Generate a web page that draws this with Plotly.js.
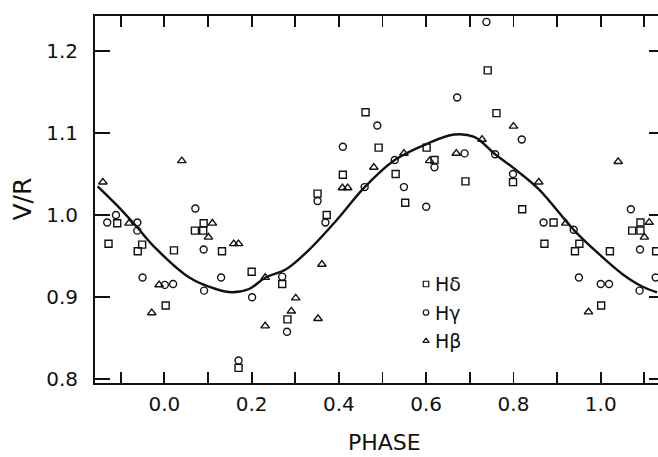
<!DOCTYPE html>
<html><head><meta charset="utf-8">
<script src="https://cdn.plot.ly/plotly-3.0.1.min.js"></script>
<style>html,body{margin:0;padding:0;overflow:hidden;background:#fff}#chart{width:680px;height:457px}</style>
</head><body><div id="chart"></div><script>
// H-delta (squares)
const hDeltaPhase = [-0.108,-0.128,-0.051,-0.061,0.022,0.003,0.090,0.070,0.089,0.132,0.200,0.270,0.282,0.170,0.351,0.372,0.409,0.461,0.491,0.530,0.552,0.601,0.619,0.690,0.741,0.761,0.799,0.820,0.892,0.871,0.951,0.941,1.021,1.001,1.091,1.072,1.091,1.127];
const hDeltaVR    = [0.990,0.965,0.964,0.956,0.957,0.890,0.990,0.981,0.981,0.956,0.931,0.916,0.873,0.814,1.026,1.000,1.049,1.125,1.082,1.050,1.015,1.082,1.067,1.041,1.176,1.124,1.040,1.007,0.991,0.965,0.965,0.956,0.956,0.890,0.991,0.981,0.981,0.956];
// H-gamma (circles)
const hGammaPhase = [-0.131,-0.111,-0.062,-0.062,-0.050,0.001,0.020,0.071,0.090,0.130,0.091,0.201,0.170,0.270,0.281,0.369,0.351,0.409,0.488,0.459,0.528,0.549,0.600,0.619,0.671,0.688,0.738,0.758,0.819,0.799,0.869,0.938,0.950,1.000,1.019,1.089,1.069,1.090,1.126];
const hGammaVR    = [0.991,1.000,0.991,0.981,0.924,0.915,0.916,1.008,0.958,0.924,0.908,0.900,0.823,0.925,0.858,0.991,1.017,1.083,1.109,1.034,1.067,1.034,1.010,1.058,1.143,1.075,1.235,1.074,1.092,1.050,0.991,0.982,0.924,0.916,0.916,0.908,1.007,0.958,0.924];
// H-beta (triangles)
const hBetaPhase  = [-0.141,-0.081,-0.012,-0.029,0.040,0.110,0.101,0.159,0.170,0.231,0.231,0.301,0.291,0.352,0.361,0.408,0.420,0.480,0.549,0.608,0.669,0.728,0.800,0.858,0.920,0.972,1.040,1.111,1.100];
const hBetaVR     = [1.040,0.990,0.915,0.881,1.066,0.990,0.973,0.965,0.965,0.924,0.865,0.899,0.883,0.874,0.940,1.033,1.033,1.058,1.075,1.066,1.075,1.092,1.108,1.040,0.990,0.882,1.065,0.991,0.973];
// fitted curve
const curvePhase  = [-0.153,-0.109,-0.064,-0.019,0.057,0.118,0.155,0.194,0.232,0.279,0.332,0.395,0.459,0.528,0.603,0.664,0.710,0.758,0.808,0.859,0.938,0.997,1.050,1.095,1.129];
const curveVR     = [1.035,1.012,0.986,0.959,0.924,0.910,0.906,0.910,0.924,0.934,0.958,0.994,1.034,1.067,1.087,1.098,1.095,1.074,1.054,1.031,0.982,0.952,0.928,0.913,0.906];
// axis ticks
const xTickVals  = [-0.1,0.0,0.1,0.2,0.3,0.4,0.5,0.6,0.7,0.8,0.9,1.0,1.1];
const xTickText  = ['','0.0','','0.2','','0.4','','0.6','','0.8','','1.0',''];
const yTickVals  = [0.8,0.9,1.0,1.1,1.2];
const yTickText  = ['0.8','0.9','1.0','1.1','1.2'];
const legendNames = ['H\u03b4','H\u03b3','H\u03b2'];
const legendSymbols = ['square-open','circle-open','triangle-up-open'];

const FONT = 'DejaVu Sans';
const black = '#111';
function pts(x, y, sym, size){
  return {x:x, y:y, type:'scatter', mode:'markers', showlegend:false, hoverinfo:'skip',
    marker:{symbol:sym, size:size, color:black, line:{color:black, width:1.4}}};
}
const traces = [
  {x:curvePhase, y:curveVR, type:'scatter', mode:'lines', showlegend:false, hoverinfo:'skip',
   line:{color:black, width:2.4, shape:'spline', smoothing:1}},
  pts(hDeltaPhase, hDeltaVR, 'square-open', 7),
  pts(hGammaPhase, hGammaVR, 'circle-open', 7),
  pts(hBetaPhase, hBetaVR, 'triangle-up-open', 7.5)
];
// legend block (layout positions in plot pixel frame)
const legX = 426, legY0 = 284, legDy = 28.5, legTextGap = 7;
const legY = legendNames.map((_, i) => legY0 + i*legDy);
traces.push({x: legendNames.map(() => legX), y: legY, xaxis:'x2', yaxis:'y2', type:'scatter', mode:'markers',
  showlegend:false, hoverinfo:'skip',
  marker:{symbol:legendSymbols, size:5.5, color:black, line:{color:black, width:1.2}}});
const annotations = legendNames.map((n, i) => ({text:n, x:legX+legTextGap, y:legY[i], xref:'x2', yref:'y2',
  xanchor:'left', yanchor:'middle', showarrow:false, font:{family:FONT, size:19, color:black}}));
annotations.push({text:'PHASE', xref:'paper', yref:'paper', x:(384-95)/569, y:(383-442)/367,
  xanchor:'center', yanchor:'middle', showarrow:false, font:{family:FONT, size:22, color:black}});
annotations.push({text:'V/R', xref:'paper', yref:'paper', x:(22-95)/569, y:0.5, textangle:-90,
  xanchor:'center', yanchor:'middle', showarrow:false, font:{family:FONT, size:25, color:black}});

const axBase = {showgrid:false, zeroline:false, showline:true, linecolor:black, linewidth:2,
  ticks:'inside', tickcolor:black, tickwidth:1.8, mirror:'ticks', tickmode:'array',
  tickfont:{family:FONT, size:20, color:black}};
const layout = {
  width:680, height:457, margin:{l:95, r:16, t:16, b:74},
  paper_bgcolor:'#fff', plot_bgcolor:'#fff', showlegend:false,
  xaxis:Object.assign({}, axBase, {range:[-0.159,1.145], tickvals:xTickVals, ticktext:xTickText, ticklen:11, ticklabelstandoff:2}),
  yaxis:Object.assign({}, axBase, {range:[0.7956,1.2422], tickvals:yTickVals, ticktext:yTickText, ticklen:15, ticklabelstandoff:11}),
  xaxis2:{overlaying:'x', range:[95,664], visible:false, fixedrange:true},
  yaxis2:{overlaying:'y', range:[383,16], visible:false, fixedrange:true},
  annotations:annotations
};
Plotly.newPlot('chart', traces, layout, {staticPlot:true, displayModeBar:false});
</script></body></html>
